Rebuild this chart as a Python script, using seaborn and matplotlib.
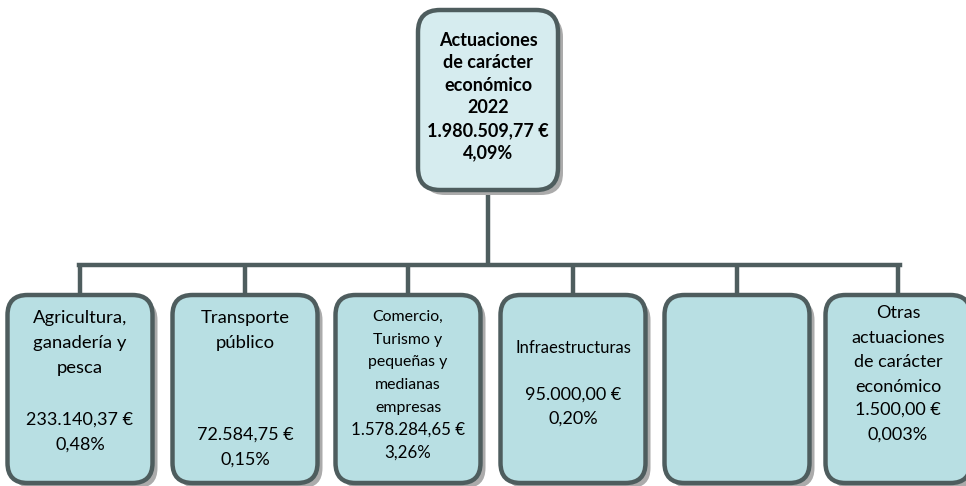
import matplotlib
matplotlib.use("Agg")
import matplotlib.pyplot as plt
from matplotlib.patches import FancyBboxPatch
import seaborn as sns

# ---- data ----
root_title = ["Actuaciones", "de carácter", "económico", "2022"]
root_amount = "1.980.509,77 €"
root_percent = "4,09%"

categories = [
    ["Agricultura,", "ganadería y", "pesca"],
    ["Transporte", "público"],
    ["Comercio,", "Turismo y", "pequeñas y", "medianas", "empresas"],
    ["Infraestructuras"],
    [],
    ["Otras", "actuaciones", "de carácter", "económico"],
]
amounts = ["233.140,37 €", "72.584,75 €", "1.578.284,65 €", "95.000,00 €", "", "1.500,00 €"]
percents = ["0,48%", "0,15%", "3,26%", "0,20%", "", "0,003%"]

# ---- layout (pixels) ----
W, H = 966, 486
box_centers = [80, 245, 408, 573, 737, 898]
box_w, box_top, box_bot = 145, 295, 483
title_y0 = [318, 318, 317, 348, 0, 313]
value_y0 = [420, 435, 430, 395, 0, 410]
steps = [25, 25, 22.7, 24, 0, 24.5]
title_fs = [13.3, 13.3, 11.4, 12.0, 13, 13.0]
value_fs = [13.0, 13.0, 12.2, 13.0, 13, 13.0]

root_x0, root_x1, root_y0, root_y1 = 418, 558, 10, 190
bus_y = 265

edge = "#4e5d5e"
fill_child = "#b8dfe3"
fill_root = "#d6ecef"
shadow = "#ababab"

sns.set_theme(style="white")
plt.rcParams["font.family"] = ["Lato", "DejaVu Sans"]

fig = plt.figure(figsize=(W / 100, H / 100), dpi=100)
ax = fig.add_axes([0, 0, 1, 1])
ax.set_xlim(0, W)
ax.set_ylim(H, 0)
ax.axis("off")


def rbox(x0, y0, x1, y1, fc, r=20):
    sh = FancyBboxPatch((x0 + 5, y0 + 5), x1 - x0, y1 - y0,
                        boxstyle=f"round,pad=0,rounding_size={r}",
                        fc=shadow, ec="none", zorder=2)
    ax.add_patch(sh)
    b = FancyBboxPatch((x0, y0), x1 - x0, y1 - y0,
                       boxstyle=f"round,pad=0,rounding_size={r}",
                       fc=fc, ec=edge, lw=3.2, zorder=3)
    ax.add_patch(b)


# connectors
lw_c = 3.2
cx_root = (root_x0 + root_x1) / 2
ax.plot([cx_root, cx_root], [root_y1, bus_y], color=edge, lw=lw_c, zorder=1, solid_capstyle="butt")
ax.plot([box_centers[0] - 1.5, box_centers[-1] + 1.5], [bus_y, bus_y], color=edge, lw=lw_c, zorder=1,
        solid_capstyle="projecting")
for cx in box_centers:
    ax.plot([cx, cx], [bus_y, box_top + 3], color=edge, lw=lw_c, zorder=1, solid_capstyle="butt")

# root box
rbox(root_x0, root_y0, root_x1, root_y1, fill_root, r=22)
root_lines = root_title + [root_amount, root_percent]
for i, t in enumerate(root_lines):
    ax.text(cx_root, 40 + i * 22.6, t, ha="center", va="center", fontsize=13,
            fontweight="bold", color="black", zorder=5)

# child boxes
for i, cx in enumerate(box_centers):
    rbox(cx - box_w / 2, box_top, cx + box_w / 2, box_bot, fill_child, r=20)
    for j, t in enumerate(categories[i]):
        ax.text(cx, title_y0[i] + j * steps[i], t, ha="center", va="center",
                fontsize=title_fs[i], color="black", zorder=5)
    if amounts[i]:
        ax.text(cx, value_y0[i], amounts[i], ha="center", va="center",
                fontsize=value_fs[i], color="black", zorder=5)
        ax.text(cx, value_y0[i] + steps[i], percents[i], ha="center", va="center",
                fontsize=value_fs[i], color="black", zorder=5)

fig.savefig("out.png", dpi=100, facecolor="white")
